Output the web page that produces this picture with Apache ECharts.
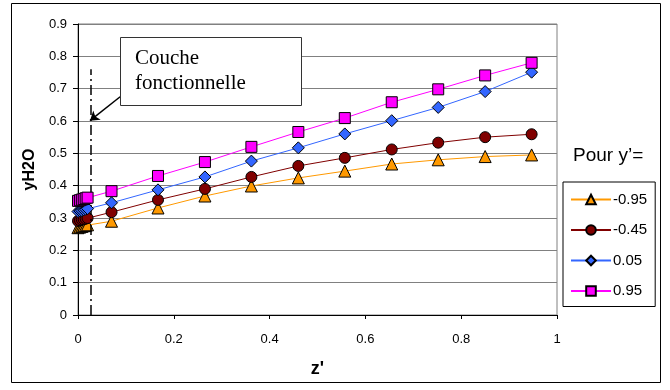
<!DOCTYPE html>
<html><head><meta charset="utf-8">
<script src="https://cdn.jsdelivr.net/npm/echarts@6/dist/echarts.min.js"></script>
<style>html,body{margin:0;padding:0;background:#fff}#c{width:670px;height:390px}</style>
</head><body><div id="c"></div>
<script>
var zValues = [0, 0.004, 0.008, 0.012, 0.016, 0.02, 0.07, 0.167, 0.265, 0.362, 0.46, 0.557, 0.655, 0.752, 0.85, 0.947];
var seriesNames = ['-0.95', '-0.45', '0.05', '0.95'];
var yM095 = [0.270, 0.272, 0.274, 0.276, 0.277, 0.279, 0.290, 0.331, 0.368, 0.399, 0.424, 0.445, 0.467, 0.480, 0.490, 0.495];
var yM045 = [0.291, 0.293, 0.295, 0.296, 0.298, 0.300, 0.318, 0.356, 0.390, 0.427, 0.461, 0.486, 0.512, 0.533, 0.550, 0.559];
var yP005 = [0.320, 0.322, 0.323, 0.325, 0.327, 0.329, 0.347, 0.387, 0.427, 0.476, 0.517, 0.560, 0.601, 0.642, 0.691, 0.751];
var yP095 = [0.353, 0.355, 0.357, 0.359, 0.361, 0.363, 0.383, 0.430, 0.473, 0.520, 0.566, 0.609, 0.658, 0.698, 0.741, 0.780];
var xTicks = [0, 0.2, 0.4, 0.6, 0.8, 1];
var yTicks = [0, 0.1, 0.2, 0.3, 0.4, 0.5, 0.6, 0.7, 0.8, 0.9];
var layerEdge = 0.027;

function pairs(ys){ return zValues.map(function(z,i){ return [z, ys[i]]; }); }

var styles = [
  {color:'#FF9900', line:'#FF9900', symbol:'triangle', size:12},
  {color:'#800000', line:'#800000', symbol:'circle', size:11},
  {color:'#3366FF', line:'#3366FF', symbol:'diamond', size:12},
  {color:'#FF00FF', line:'#FF00FF', symbol:'rect', size:11}
];
var allY = [yM095, yM045, yP005, yP095];

var series = allY.map(function(ys, k){
  var s = styles[k];
  return {
    name: seriesNames[k], type:'line', data: pairs(ys),
    symbol: s.symbol, symbolSize: s.size, showAllSymbol:true, clip:false,
    lineStyle:{color:s.line, width:1},
    itemStyle:{color:s.color, borderColor:'#000', borderWidth:1},
    emphasis:{disabled:true}, animation:false, z: 3 + k
  };
});
series[0].markLine = {
  silent:true, animation:false, label:{show:false}, symbol:['none','none'],
  data:[
    [{coord:[layerEdge, 0], symbol:'none', lineStyle:{color:'#000', width:1.5, type:[10,4,2,4]}}, {coord:[layerEdge, 0.76], symbol:'none'}],
    [{coord:[0.088, 0.675], symbol:'none', lineStyle:{color:'#000', width:1.5, type:'solid'}}, {coord:[0.025, 0.601], symbol:'arrow', symbolSize:9}]
  ]
};

var chart = echarts.init(document.getElementById('c'));
chart.setOption({
  animation:false,
  backgroundColor:'#fff',
  grid:{left:78, right:113, top:24, bottom:75, show:true, borderColor:'#808080', borderWidth:1, backgroundColor:'#fff'},
  xAxis:{type:'value', min:0, max:1, interval:0.2, name:"z'", nameLocation:'middle', nameGap:45,
    nameTextStyle:{fontFamily:'Liberation Sans', fontWeight:'bold', fontSize:18, color:'#000'},
    axisLine:{lineStyle:{color:'#000', width:1}}, axisTick:{show:true, length:4, lineStyle:{color:'#000'}},
    splitLine:{show:false},
    axisLabel:{fontFamily:'Liberation Sans', fontSize:13, color:'#000', margin:18,
      formatter:function(v){ return String(Math.round(v*10)/10); }}},
  yAxis:{type:'value', min:0, max:0.9, interval:0.1, name:'yH2O', nameLocation:'middle', nameGap:40,
    nameTextStyle:{fontFamily:'Liberation Sans', fontWeight:'bold', fontSize:16, color:'#000'},
    axisLine:{show:true, lineStyle:{color:'#000', width:1}}, axisTick:{show:true, length:5, lineStyle:{color:'#000'}},
    splitLine:{show:true, lineStyle:{color:'#808080', width:1}},
    axisLabel:{fontFamily:'Liberation Sans', fontSize:13, color:'#000', margin:11,
      formatter:function(v){ return String(Math.round(v*10)/10); }}},
  legend:{orient:'vertical', left:563, top:182, data:seriesNames,
    itemWidth:40, itemHeight:12, itemGap:15.5, padding:[10,8,8,7],
    borderColor:'#000', borderWidth:1, backgroundColor:'#fff',
    textStyle:{fontFamily:'Liberation Sans', fontSize:15, lineHeight:12, color:'#000', padding:[0,0,0,-3]},
    selectedMode:false},
  graphic:[
    {type:'rect', shape:{x:11.5, y:3.5, width:649, height:379}, style:{fill:'none', stroke:'#000', lineWidth:1}, z:-10, silent:true},
    {type:'text', x:573, y:146, style:{text:'Pour y\u2019=', font:'19px "Liberation Sans"', fill:'#000'}, silent:true},
    {type:'rect', shape:{x:120.5, y:37.5, width:181, height:68}, style:{fill:'#fff', stroke:'#333', lineWidth:1}, z:100, silent:true},
    {type:'text', x:135, y:48, style:{text:'Couche', font:'21px "Liberation Serif"', fill:'#000'}, z:101, silent:true},
    {type:'text', x:135, y:73, style:{text:'fonctionnelle', font:'21px "Liberation Serif"', fill:'#000'}, z:101, silent:true}
  ],
  series: series
});
</script></body></html>
